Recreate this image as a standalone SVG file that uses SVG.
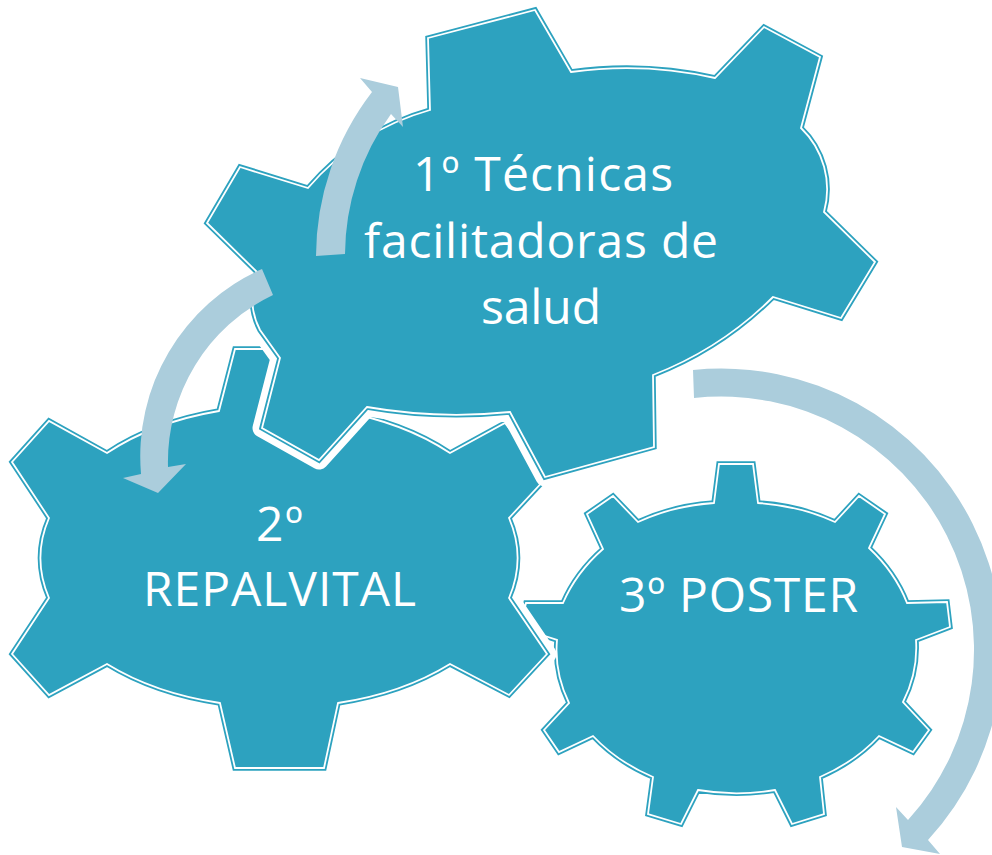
<svg xmlns="http://www.w3.org/2000/svg" xmlns:xlink="http://www.w3.org/1999/xlink" width="992" height="855" viewBox="0 0 992 855">
<style>
.halo{fill:none;stroke:#fff;stroke-width:19;stroke-linejoin:round}
.edge{fill:#2da2bf;stroke:#2da2bf;stroke-width:5.4;stroke-linejoin:miter;stroke-miterlimit:8}
.inner{fill:#2da2bf;stroke:#fff;stroke-width:1.8;stroke-linejoin:miter;stroke-miterlimit:8}
.arrow{fill:#abcddc}
text{font-family:"Open Sans","Liberation Sans",sans-serif;font-size:48px;fill:#fff}
</style>
<defs>
<path id="g1" d="M428 38L535 10L571 72A400 400 0 0 1 715 78L764 27L820 57L801 128A85 85 0 0 1 824 212L875 262L841 318L773 297A350 350 0 0 1 653 375L654 447L545 477L510 412A520 520 0 0 1 367 407L319 460L262 428L280 358L260 330A70 70 0 0 1 257 272L207 223L240 167L308 188A250 250 0 0 1 430 110Z"/>
<path id="g2" d="M235 349H324L338 411A240 152 0 0 1 450 453L505 423L547 477L509 518A240 152 0 0 1 509 598L547 654L509 695L450 664A240 152 0 0 1 338 703L324 768H235L220 703A240 152 0 0 1 107 664L49 695L12 654L49 598A240 152 0 0 1 49 518L12 462L49 421L107 453A240 152 0 0 1 219 411Z"/>
<path id="g3" d="M719 464H753L758 503A182 145 0 0 1 835 522L859 496L885 514L869 548A190 155 0 0 1 907 603L947 602L950 627L916 640A182 145 0 0 1 903 702L929 730L913 752L879 736A182 145 0 0 1 820 777L824 814L792 824L775 790A182 145 0 0 1 698 790L681 824L648 814L653 777A182 145 0 0 1 593 736L559 752L544 730L569 703A182 145 0 0 1 557 640L520 628L526 603L563 603A190 155 0 0 1 603 549L587 514L613 496L638 522A182 145 0 0 1 714 503Z"/>
</defs>
<g id="gear3">
<use xlink:href="#g3" class="edge"/><use xlink:href="#g3" class="inner"/>
<text x="619" y="612" textLength="239">3º POSTER</text>
</g>
<g id="gear2">
<use xlink:href="#g2" class="halo"/><use xlink:href="#g2" class="edge"/><use xlink:href="#g2" class="inner"/>
<text x="256" y="541" textLength="47">2º</text>
<text x="143" y="606" textLength="273">REPALVITAL</text>
</g>
<g id="gear1">
<use xlink:href="#g1" class="halo"/><use xlink:href="#g1" class="edge"/><use xlink:href="#g1" class="inner"/>
<text x="413" y="191" textLength="260">1º Técnicas</text>
<text x="364" y="258" textLength="354">facilitadoras de</text>
<text x="481" y="324" textLength="120">salud</text>
</g>
<g id="connectors">
<path class="arrow" d="M316 256A270 270 0 0 1 372 92L360 78L398 87L403 127L391 114A240 240 0 0 0 345 254Z"/>
<path class="arrow" d="M262 269A205 205 0 0 0 141 474L123 478L158 493L186 464L168 467A185 185 0 0 1 273 295Z"/>
<path class="arrow" d="M693 370A281 281 0 0 1 928 840L940 854L902 847L896 807L908 820A253 253 0 0 0 694 398Z"/>
</g>
</svg>
